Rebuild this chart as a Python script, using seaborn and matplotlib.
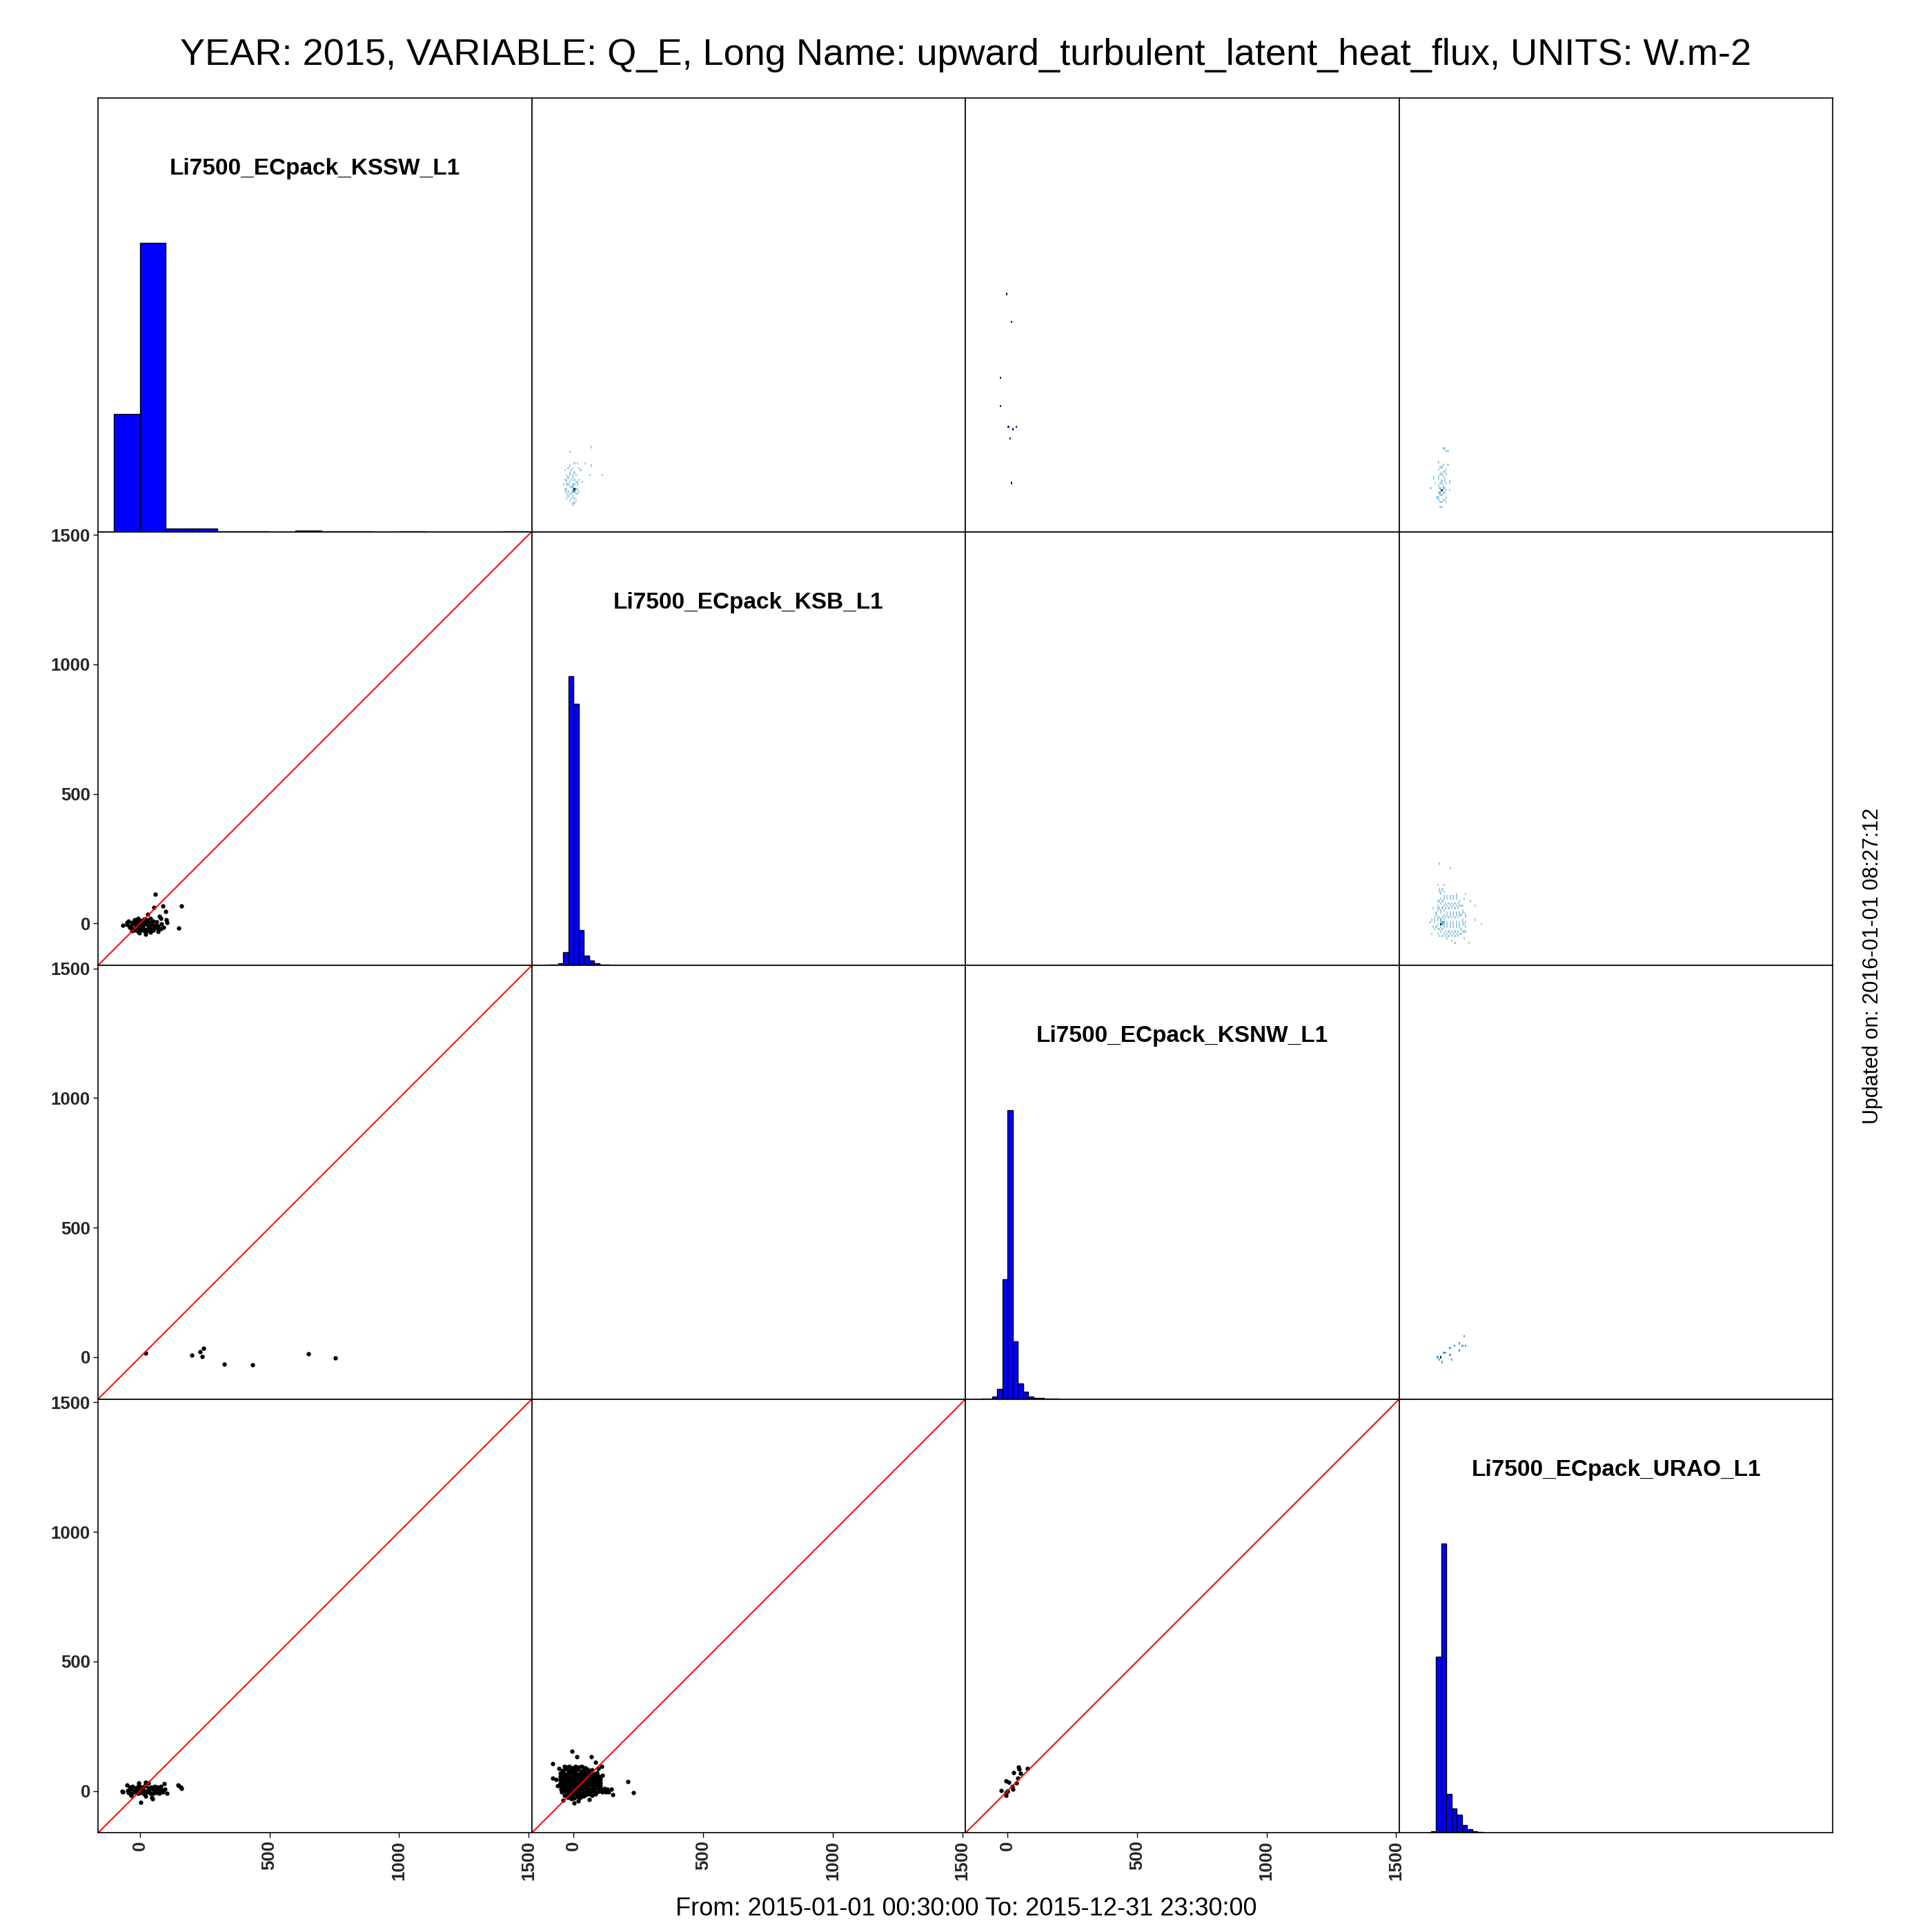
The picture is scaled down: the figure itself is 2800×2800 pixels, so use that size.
import numpy as np
import pandas as pd
import matplotlib
matplotlib.use("Agg")
import matplotlib.pyplot as plt
import seaborn as sns

# ---------------- data ----------------
title = "YEAR: 2015, VARIABLE: Q_E, Long Name: upward_turbulent_latent_heat_flux, UNITS: W.m-2"
footer = "From: 2015-01-01 00:30:00 To: 2015-12-31 23:30:00"
updated = "Updated on: 2016-01-01 08:27:12"
names = ["Li7500_ECpack_KSSW_L1", "Li7500_ECpack_KSB_L1",
         "Li7500_ECpack_KSNW_L1", "Li7500_ECpack_URAO_L1"]
axis_lim = [-162, 1512]
tick_values = [0, 500, 1000, 1500]
tick_labels = ["0", "500", "1000", "1500"]

# diagonal histograms (bin edges, relative counts)
kssw_edges = [-100, 0, 100, 200, 300, 400, 500, 600, 700, 800, 900, 1000, 1100, 1200, 1300, 1400, 1500]
kssw_counts = [406, 1000, 10, 10, 2, 2, 0, 5, 2, 2, 0, 2, 0, 0, 0, 2]
ksb_edges = [-100, -80, -60, -40, -20, 0, 20, 40, 60, 80, 100, 120, 140, 160, 180, 200, 220, 240]
ksb_counts = [2, 3, 8, 47, 1000, 905, 121, 33, 18, 8, 4, 3, 1, 1, 1, 1, 1]
ksnw_edges = [-100, -80, -60, -40, -20, 0, 20, 40, 60, 80, 100, 120, 140, 160, 180, 200]
ksnw_counts = [2, 2, 10, 36, 414, 1000, 200, 55, 26, 10, 5, 4, 1, 1, 1]
urao_edges = [-60, -40, -20, 0, 20, 40, 60, 80, 100, 120, 140, 160]
urao_counts = [2, 5, 610, 1000, 134, 84, 62, 27, 12, 6, 3]

# ---- KSSW (x) vs KSB (y) ----
kssw_ksb_pts_x = [60, 54, 88, 161, 98, 76, 80, 101, 104, 149, 91, 71, 40, 23, -1, -31, -65, -49, 29]
kssw_ksb_pts_y = [112, 61, 68, 67, 45, 27, 20, 15, 3, -18, -16, -31, -33, -42, -35, -28, -6, 3, 35]
kssw_ksb_blob_x = [[-20, -8, 4, 16, 28, 40],
                   [-44, -32, -20, -8, 4, 16, 28, 40, 52, 64],
                   [-50, -38, -26, -14, -2, 10, 22, 34, 46, 58, 70, 82],
                   [-40, -28, -16, -4, 8, 20, 32, 44, 56, 68, 80],
                   [-20, -8, 4, 16, 28, 40, 52]]
kssw_ksb_blob_y = [[14, 19, 12, 17, 15, 20],
                   [8, 3, 9, 5, 7, 2, 8, 4, 9, 5],
                   [-4, -9, -3, -7, -5, -10, -2, -8, -4, -6, -9, -3],
                   [-16, -21, -15, -19, -17, -22, -14, -20, -16, -18, -21],
                   [-26, -31, -25, -29, -27, -30, -26]]
kssw_ksb_core_x = [0, -5, 5, 10, -10]
kssw_ksb_core_y = [0, -5, 5, -5, 0]
kssw_ksb_core_n = [40, 15, 15, 10, 10]

# ---- KSSW (x) vs KSNW (y) ----
kssw_ksnw_pts_x = [22, 200, 232, 240, 246, 325, 434, 650, 753]
kssw_ksnw_pts_y = [17, 9, 21, 2, 35, -26, -29, 13, -3]

# ---- KSSW (x) vs URAO (y) ----
kssw_urao_pts_x = [-67, -51, -34, 2, 48, 93, 104, 149, 161, 23, -6, 70, 23, 157, 148, 46, -70, -36, -4, 32]
kssw_urao_pts_y = [-5, 22, -16, -43, -30, 28, -9, 21, 10, 34, 22, 10, -20, 14, 24, -26, -1, -12, 30, 30]
kssw_urao_blob_x = [[-40, -28, -16, -4, 8, 20, 32, 44, 56, 68, 80],
                    [-48, -36, -24, -12, 0, 12, 24, 36, 48, 60, 72, 84, 96],
                    [-44, -32, -20, -8, 4, 16, 28, 40, 52, 64, 76, 88]]
kssw_urao_blob_y = [[14, 18, 13, 17, 15, 19, 12, 16, 18, 14, 17],
                    [2, 6, 1, 5, 3, 7, 0, 4, 6, 2, 5, 3, 7],
                    [-6, -10, -5, -9, -7, -11, -4, -8, -10, -6, -9, -5]]
kssw_urao_core_x = [0, -5, 5, 10, -10]
kssw_urao_core_y = [0, 3, -3, 5, -2]
kssw_urao_core_n = [40, 15, 15, 10, 10]

# ---- KSB (x) vs URAO (y) ----
ksb_urao_pts_x = [-6, 13, 69, 83, -80, -58, -80, -69, 109, 209, 231, 145, 124, 18, 2, -9, -35,
                  -62, 96, 112, 150, -40, 60]
ksb_urao_pts_y = [154, 131, 133, 110, 105, 86, 50, 43, 95, 35, -6, 8, -5, -38, -46, -30, 95,
                  20, 88, 60, -14, -36, -32]
ksb_urao_blob_x = [[-28, -16, -4, 8, 20, 32, 44],
                   [-44, -32, -20, -8, 4, 16, 28, 40, 52, 64, 72],
                   [-52, -40, -28, -16, -4, 8, 20, 32, 44, 56, 68, 80, 90],
                   [-52, -40, -28, -16, -4, 8, 20, 32, 44, 56, 68, 80, 92, 102],
                   [-52, -40, -28, -16, -4, 8, 20, 32, 44, 56, 68, 80, 92, 102],
                   [-52, -40, -28, -16, -4, 8, 20, 32, 44, 56, 68, 80, 92, 102],
                   [-52, -40, -28, -16, -4, 8, 20, 32, 44, 56, 68, 80, 92, 104],
                   [-50, -38, -26, -14, -2, 10, 22, 34, 46, 58, 70, 82, 94, 106, 118, 130],
                   [-46, -34, -22, -10, 2, 14, 26, 38, 50, 62, 74, 86, 98, 110, 122, 134],
                   [-36, -24, -12, 0, 12, 24, 36, 48, 60, 72, 84],
                   [-22, -10, 2, 14, 26, 38]]
ksb_urao_blob_y = [[91, 95, 90, 94, 92, 96, 89],
                   [79, 83, 78, 82, 80, 84, 77, 81, 83, 79, 82],
                   [67, 71, 66, 70, 68, 72, 65, 69, 71, 67, 70, 66, 72],
                   [55, 59, 54, 58, 56, 60, 53, 57, 59, 55, 58, 54, 60, 56],
                   [43, 47, 42, 46, 44, 48, 41, 45, 47, 43, 46, 42, 48, 44],
                   [31, 35, 30, 34, 32, 36, 29, 33, 35, 31, 34, 30, 36, 32],
                   [19, 23, 18, 22, 20, 24, 17, 21, 23, 19, 22, 18, 24, 20],
                   [7, 11, 6, 10, 8, 12, 5, 9, 11, 7, 10, 6, 12, 8, 10, 7],
                   [-5, -1, -6, -2, -4, 0, -7, -3, -1, -5, -2, -6, 0, -4, -2, -5],
                   [-16, -12, -17, -13, -15, -11, -18, -14, -12, -16, -13],
                   [-26, -22, -27, -23, -25, -21]]
ksb_urao_core_x = [0, -5, 5, 10, -8, 3]
ksb_urao_core_y = [0, -4, 4, -2, 2, 10]
ksb_urao_core_n = [45, 15, 15, 10, 10, 8]

# ---- KSNW (x) vs URAO (y) ----
ksnw_urao_pts_x = [42, 44, 78, 24, 50, 40, 35, -6, 6, 19, 20, -23, -6, 0, -5]
ksnw_urao_pts_y = [93, 83, 86, 72, 68, 49, 32, 38, 34, 17, 7, 2, -7, -1, -17]
ksnw_urao_core_x = [0]
ksnw_urao_core_y = [-1]
ksnw_urao_core_n = [3]


def build(pts_x, pts_y, blob_x=(), blob_y=(), core_x=(), core_y=(), core_n=()):
    xs, ys, ns = list(pts_x), list(pts_y), [1] * len(pts_x)
    for rx, ry in zip(blob_x, blob_y):
        xs += list(rx)
        ys += list(ry)
        ns += [1] * len(rx)
    xs += list(core_x)
    ys += list(core_y)
    ns += list(core_n)
    return pd.DataFrame({"x": xs, "y": ys, "n": ns})


# (row, col) of the lower panel -> observations
pairs = {
    (1, 0): build(kssw_ksb_pts_x, kssw_ksb_pts_y, kssw_ksb_blob_x, kssw_ksb_blob_y,
                  kssw_ksb_core_x, kssw_ksb_core_y, kssw_ksb_core_n),
    (2, 0): build(kssw_ksnw_pts_x, kssw_ksnw_pts_y),
    (3, 0): build(kssw_urao_pts_x, kssw_urao_pts_y, kssw_urao_blob_x, kssw_urao_blob_y,
                  kssw_urao_core_x, kssw_urao_core_y, kssw_urao_core_n),
    (3, 1): build(ksb_urao_pts_x, ksb_urao_pts_y, ksb_urao_blob_x, ksb_urao_blob_y,
                  ksb_urao_core_x, ksb_urao_core_y, ksb_urao_core_n),
    (3, 2): build(ksnw_urao_pts_x, ksnw_urao_pts_y, (), (),
                  ksnw_urao_core_x, ksnw_urao_core_y, ksnw_urao_core_n),
}
hists = [(kssw_edges, kssw_counts), (ksb_edges, ksb_counts),
         (ksnw_edges, ksnw_counts), (urao_edges, urao_counts)]

# ---------------- figure ----------------
sns.set_theme(style="white")
plt.rcParams['font.family'] = ['Liberation Sans', 'DejaVu Sans']

W = 2800
fig, axes = plt.subplots(4, 4, figsize=(28, 28), dpi=100)
L, R = 142 / W, 2656.4 / W
fig.subplots_adjust(left=L, right=R, bottom=1 - R, top=1 - L, wspace=0, hspace=0)

for i in range(4):
    for j in range(4):
        ax = axes[i, j]
        ax.set_facecolor("white")
        if i == j:
            edges, counts = hists[i]
            edges_list = [float(e) for e in edges]
            counts_arr = np.asarray(counts, float)
            hdf = pd.DataFrame({
                "center": [(edges_list[k] + edges_list[k + 1]) / 2 for k in range(len(counts))],
                "height": counts_arr / counts_arr.max(),
            })
            sns.histplot(data=hdf, x="center", weights="height", bins=edges_list, ax=ax,
                         color="blue", edgecolor="black", linewidth=1.0, alpha=1.0)
            ax.set_ylim(0, 1.5)
            ax.text(0.5, 0.837, names[i], transform=ax.transAxes, ha="center", va="center",
                    fontsize=24, fontweight="bold", color="black")
        elif i > j:
            if (i, j) in pairs:
                d = pairs[(i, j)]
                sns.scatterplot(data=d, x="x", y="y", ax=ax, color="black", s=21, linewidth=0)
                ax.axline((0, 0), slope=1, color="red", linewidth=1.4)
            ax.set_ylim(*axis_lim)
        else:
            if (j, i) in pairs:
                d = pairs[(j, i)]
                df = pd.DataFrame({"x": d["y"], "y": d["x"], "n": d["n"]})
                peak = float(df["n"].max())
                sns.histplot(data=df, x="x", y="y", weights="n", binwidth=(6, 9), ax=ax,
                             cmap="Blues", vmin=-0.5 * peak, vmax=peak)
            ax.set_ylim(*axis_lim)
        ax.set_xlim(*axis_lim)
        ax.set_xlabel("")
        ax.set_ylabel("")
        for s in ax.spines.values():
            s.set_visible(True)
            s.set_color("black")
            s.set_linewidth(1.2)
        # ticks
        if j == 0 and i > 0:
            ax.set_yticks(tick_values)
            ax.set_yticklabels(tick_labels)
        else:
            ax.set_yticks([])
        if i == 3 and j < 3:
            ax.set_xticks(tick_values)
            ax.set_xticklabels(tick_labels, rotation=90)
        else:
            ax.set_xticks([])
        ax.tick_params(axis="both", which="both", direction="out", length=5, width=1,
                       color="black", labelsize=18.5, pad=3, left=(j == 0 and i > 0),
                       bottom=(i == 3 and j < 3))
        for lab in ax.get_xticklabels() + ax.get_yticklabels():
            lab.set_fontweight("bold")

fig.text(0.5, 1 - 80 / W, title, ha="center", va="center", fontsize=39, color="black")
fig.text(0.5, 1 - 2766 / W, footer, ha="center", va="center", fontsize=26, color="black")
fig.text(2714 / W, 0.5, updated, ha="center", va="center", rotation=90, fontsize=22, color="black")

fig.savefig("out.png", dpi=100, facecolor="white")
